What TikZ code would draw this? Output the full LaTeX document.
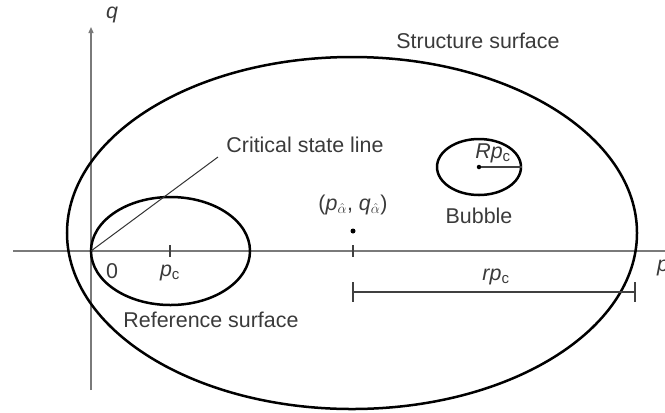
\documentclass[tikz,border=0pt]{standalone}
\usepackage{fontspec}
\setmainfont{Liberation Sans}
\usetikzlibrary{shapes.geometric,arrows.meta}
\definecolor{txt}{HTML}{3A3A3A}
\definecolor{axisgray}{HTML}{7A7A7A}
\begin{document}
\begin{tikzpicture}[x=1bp,y=-1bp,
  surf/.style={draw=black,line width=2.5bp,ellipse,inner sep=0pt},
  lbl/.style={text=txt,font=\fontsize{21.5}{24}\selectfont,inner sep=0pt},
  axisline/.style={draw=axisgray,line width=1.3bp},
  thinline/.style={draw=black!80,line width=1bp},
  dimline/.style={draw=black!75,line width=1.4bp},
  dotmark/.style={circle,fill=black,inner sep=0pt,minimum size=5bp}]
\useasboundingbox (0,0) rectangle (665,412);
% axes
\coordinate (O) at (91,251);
\coordinate (xl) at (13,251);
\coordinate (xr) at (672,251);
\coordinate (yb) at (91,390);
\coordinate (yt) at (91,27);
\draw[axisline] (xl) -- (xr);
\draw[axisline,-{Triangle[length=6bp,width=5bp]}] (yb) -- (yt);
% surfaces
\node[surf,minimum width=570bp,minimum height=352bp] (S) at (352,233) {};
\node[surf,minimum width=159bp,minimum height=108bp] (Ref) at (170.5,251) {};
\node[surf,minimum width=84bp,minimum height=56bp] (B) at (479,167) {};
% critical state line
\coordinate (csl) at (218,157);
\draw[thinline] (O) -- (csl);
% ticks
\coordinate (t1a) at (170,245); \coordinate (t1b) at (170,257);
\coordinate (t2a) at (353,245); \coordinate (t2b) at (353,257);
\draw[dimline] (t1a) -- (t1b);
\draw[dimline] (t2a) -- (t2b);
% dimension r p_c
\coordinate (d1) at (353,292); \coordinate (d2) at (635,292);
\coordinate (d1a) at (353,282); \coordinate (d1b) at (353,302);
\coordinate (d2a) at (635,282); \coordinate (d2b) at (635,302);
\draw[dimline] (d1) -- (d2);
\draw[dimline] (d1a) -- (d1b);
\draw[dimline] (d2a) -- (d2b);
% points
\node[dotmark] (alpha) at (353,231) {};
\node[dotmark,minimum size=4.5bp] (Bc) at (B.center) {};
\draw[dimline] (Bc) -- (B.east);
% labels
\node[lbl] (qlbl) at (112,15) {\textit{q}};
\node[lbl,anchor=west] (plbl) at (657,268) {\textit{p}};
\node[lbl] (zero) at (112,271) {0};
\node[lbl] (pclbl) at (170,273) {\textit{p}\textsubscript{c}};
\node[lbl] (reflbl) at (211,320) {Reference surface};
\node[lbl] (strlbl) at (478,41) {Structure surface};
\node[lbl] (csllbl) at (305,145) {Critical state line};
\node[lbl] (alphalbl) at (353,205) {(\textit{p}$_{\hat\alpha}$, \textit{q}$_{\hat\alpha}$)};
\node[lbl] (bublbl) at (479,216) {Bubble};
\node[lbl] (Rlbl) at (493,153) {\textit{Rp}\textsubscript{c}};
\node[lbl] (rlbl) at (496,277) {\textit{rp}\textsubscript{c}};
\end{tikzpicture}
\end{document}
